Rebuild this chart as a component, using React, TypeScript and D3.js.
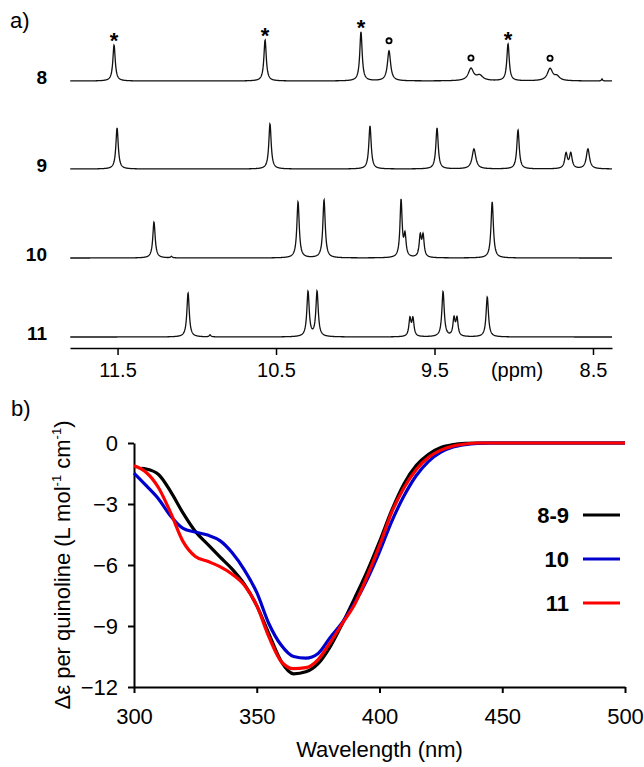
import React, { useEffect, useRef } from 'react';
import * as d3 from 'd3';

// panel a) 1H NMR: peak lists, [ppm, intensity, half width (ppm)]
const nmrLabels = ['8', '9', '10', '11'];
const peaks8 = [
  [11.522, 36, 0.009], [10.569, 41, 0.009], [9.964, 49, 0.009], [9.787, 30, 0.012],
  [9.27, 12, 0.02], [9.215, 5, 0.025], [9.036, 37, 0.009], [8.771, 12, 0.02],
  [8.727, 4, 0.02], [8.443, 2, 0.004],
];
const peaks9 = [
  [11.503, 41, 0.009], [10.538, 45, 0.009], [9.907, 43, 0.009], [9.484, 41, 0.009],
  [9.251, 20, 0.014], [8.973, 39, 0.009], [8.67, 15, 0.01], [8.64, 15, 0.01],
  [8.532, 20, 0.012],
];
const peaks10 = [
  [11.27, 36, 0.009], [11.16, 1.5, 0.006], [10.361, 56, 0.009], [10.197, 58, 0.009],
  [9.711, 57, 0.008], [9.686, 21, 0.008], [9.59, 21, 0.008], [9.572, 21, 0.008],
  [9.136, 56, 0.009],
];
const peaks11 = [
  [11.055, 44, 0.009], [10.916, 2, 0.006], [10.298, 45, 0.009], [10.241, 45, 0.009],
  [9.655, 17.5, 0.008], [9.636, 17.5, 0.008], [9.446, 45, 0.009], [9.377, 17.5, 0.008],
  [9.358, 17.5, 0.008], [9.167, 40, 0.009],
];
const starPeaks = [11.522, 10.569, 9.964, 9.036];
const circlePeaks = [9.787, 9.27, 8.771];
const ppmTicks = [11.5, 10.5, 9.5, 8.5];

// panel b) CD spectra
const wl89 = [303, 305, 310, 315, 320, 325, 330, 335, 340, 345, 350, 355, 360, 365, 370, 375, 380, 385, 390, 395, 400, 405, 410, 415, 420, 425, 430, 435, 440, 450, 460, 470, 480, 490, 500];
const cd89 = [-1.25, -1.28, -1.55, -2.4, -3.45, -4.35, -4.98, -5.6, -6.2, -6.95, -8.0, -9.4, -10.75, -11.35, -11.25, -10.85, -10.0, -8.85, -7.6, -6.3, -4.85, -3.3, -2.0, -1.1, -0.55, -0.22, -0.08, -0.02, 0, 0, 0, 0, 0, 0, 0];
const wl10 = [300, 305, 310, 315, 320, 325, 330, 335, 340, 345, 350, 355, 360, 365, 370, 375, 380, 385, 390, 395, 400, 405, 410, 415, 420, 425, 430, 435, 440, 445, 450, 460, 470, 480, 490, 500];
const cd10 = [-1.48, -2.1, -2.75, -3.6, -4.2, -4.38, -4.53, -4.8, -5.4, -6.25, -7.35, -8.9, -9.95, -10.5, -10.58, -10.35, -9.55, -8.8, -7.85, -6.7, -5.35, -3.85, -2.6, -1.6, -0.9, -0.45, -0.2, -0.08, -0.02, 0, 0, 0, 0, 0, 0, 0];
const wl11 = [300, 305, 310, 315, 320, 325, 330, 335, 340, 345, 350, 355, 360, 365, 370, 375, 380, 385, 390, 395, 400, 405, 410, 415, 420, 425, 430, 435, 440, 450, 460, 470, 480, 490, 500];
const cd11 = [-1.12, -1.45, -2.2, -3.45, -4.85, -5.58, -5.82, -6.08, -6.45, -7.0, -8.0, -9.55, -10.75, -11.1, -11.05, -10.65, -9.8, -8.85, -7.9, -6.55, -5.05, -3.4, -2.2, -1.3, -0.7, -0.35, -0.15, -0.05, 0, 0, 0, 0, 0, 0, 0];
const cdNames = ['8-9', '10', '11'];
const cdColors = ['#000000', '#0000cc', '#ff0000'];
const cdTicksX = [300, 350, 400, 450, 500];
const cdTicksY = [0, -3, -6, -9, -12];

const FONT = 'Liberation Sans, Arial, sans-serif';

const App = () => {
  const ref = useRef<SVGSVGElement>(null);

  useEffect(() => {
    const svg = d3.select(ref.current);
    svg.selectAll('*').remove();

    // ---------- a) NMR
    const x = d3.scaleLinear().domain([11.8, 8.38]).range([70, 612]);
    const yInt = d3.scaleLinear().domain([0, 60]).range([0, 60]);
    const baselines = [81, 169, 258, 337];
    const spectra = [peaks8, peaks9, peaks10, peaks11];
    const ppmGrid = d3.range(8.38, 11.8, 0.0015);

    const intensity = (pk: number[][], p: number) =>
      d3.sum(pk, ([c, h, g]) => h / (1 + ((p - c) / g) ** 2));

    svg.append('text').attr('x', 10).attr('y', 28).attr('font-size', 22)
      .attr('font-family', FONT).text('a)');

    spectra.forEach((pk, i) => {
      const base = baselines[i];
      const line = d3.line<number>()
        .x(p => x(p))
        .y(p => base - yInt(intensity(pk, p)));
      svg.append('path').datum(ppmGrid).attr('d', line)
        .attr('fill', 'none').attr('stroke', '#111').attr('stroke-width', 1.3);
      svg.append('text').attr('x', 47).attr('y', base + 3)
        .attr('text-anchor', 'end').attr('font-size', 19).attr('font-weight', 'bold')
        .attr('font-family', FONT).text(nmrLabels[i]);
    });

    starPeaks.forEach(p => {
      const top = baselines[0] - yInt(intensity(peaks8, p));
      svg.append('text').attr('x', x(p)).attr('y', top + 3)
        .attr('text-anchor', 'middle').attr('font-size', 22).attr('font-weight', 'bold')
        .attr('font-family', FONT).text('*');
    });
    circlePeaks.forEach(p => {
      const top = baselines[0] - yInt(intensity(peaks8, p));
      svg.append('circle').attr('cx', x(p)).attr('cy', top - 10).attr('r', 2.6)
        .attr('fill', 'none').attr('stroke', '#000').attr('stroke-width', 1.8);
    });

    const ax = svg.append('g').attr('transform', 'translate(0,348)')
      .call(d3.axisBottom(x).tickValues(ppmTicks).tickFormat(d3.format('.1f'))
        .tickSize(7).tickSizeOuter(0).tickPadding(8));
    ax.selectAll('path, line').attr('stroke', '#000').attr('stroke-width', 1.5);
    ax.selectAll('text').attr('font-size', 20).attr('font-family', FONT).attr('fill', '#000');
    svg.append('text').attr('x', 517).attr('y', 377).attr('text-anchor', 'middle')
      .attr('font-size', 20).attr('font-family', FONT).text('(ppm)');

    // ---------- b) CD
    svg.append('text').attr('x', 11).attr('y', 416).attr('font-size', 22)
      .attr('font-family', FONT).text('b)');

    const xc = d3.scaleLinear().domain([300, 500]).range([134, 625]);
    const yc = d3.scaleLinear().domain([-12, 0]).range([687, 443]);

    const gx = svg.append('g').attr('transform', 'translate(0,687)')
      .call(d3.axisBottom(xc).tickValues(cdTicksX).tickSize(6).tickSizeOuter(0).tickPadding(15));
    const gy = svg.append('g').attr('transform', 'translate(134,0)')
      .call(d3.axisLeft(yc).tickValues(cdTicksY).tickSize(6).tickSizeOuter(0).tickPadding(10));
    [gx, gy].forEach(g => {
      g.selectAll('path, line').attr('stroke', '#000').attr('stroke-width', 2);
      g.selectAll('text').attr('font-size', 22).attr('font-family', FONT).attr('fill', '#000');
    });

    const series = [
      { wl: wl89, cd: cd89 },
      { wl: wl10, cd: cd10 },
      { wl: wl11, cd: cd11 },
    ];
    const cdLine = d3.line<[number, number]>()
      .x(d => xc(d[0])).y(d => yc(d[1])).curve(d3.curveMonotoneX);
    series.forEach((s, i) => {
      const pts = s.wl.map((w, j) => [w, s.cd[j]] as [number, number]);
      svg.append('path').datum(pts).attr('d', cdLine)
        .attr('fill', 'none').attr('stroke', cdColors[i]).attr('stroke-width', 3.2)
        .attr('stroke-linejoin', 'round');
    });

    // legend
    const legY = [523, 567, 611];
    cdNames.forEach((n, i) => {
      svg.append('text').attr('x', 569).attr('y', legY[i]).attr('text-anchor', 'end')
        .attr('font-size', 22).attr('font-weight', 'bold').attr('font-family', FONT).text(n);
      svg.append('line').attr('x1', 583).attr('x2', 620)
        .attr('y1', legY[i] - 8).attr('y2', legY[i] - 8)
        .attr('stroke', cdColors[i]).attr('stroke-width', 3);
    });

    svg.append('text').attr('x', xc(400)).attr('y', 757).attr('text-anchor', 'middle')
      .attr('font-size', 22).attr('font-family', FONT).text('Wavelength (nm)');

    const yl = svg.append('text').attr('transform', 'translate(70,565) rotate(-90)')
      .attr('text-anchor', 'middle').attr('font-size', 22).attr('font-family', FONT);
    yl.append('tspan').text('\u0394\u03b5 per quinoline (L mol');
    yl.append('tspan').attr('font-size', 13).attr('dy', -9).text('-1');
    yl.append('tspan').attr('dy', 9).text(' cm');
    yl.append('tspan').attr('font-size', 13).attr('dy', -9).text('-1');
    yl.append('tspan').attr('dy', 9).text(')');
  }, []);

  return (
    <svg ref={ref} width={644} height={767}
      style={{ position: 'absolute', left: 0, top: 0, background: '#fff' }} />
  );
};

export default App;
